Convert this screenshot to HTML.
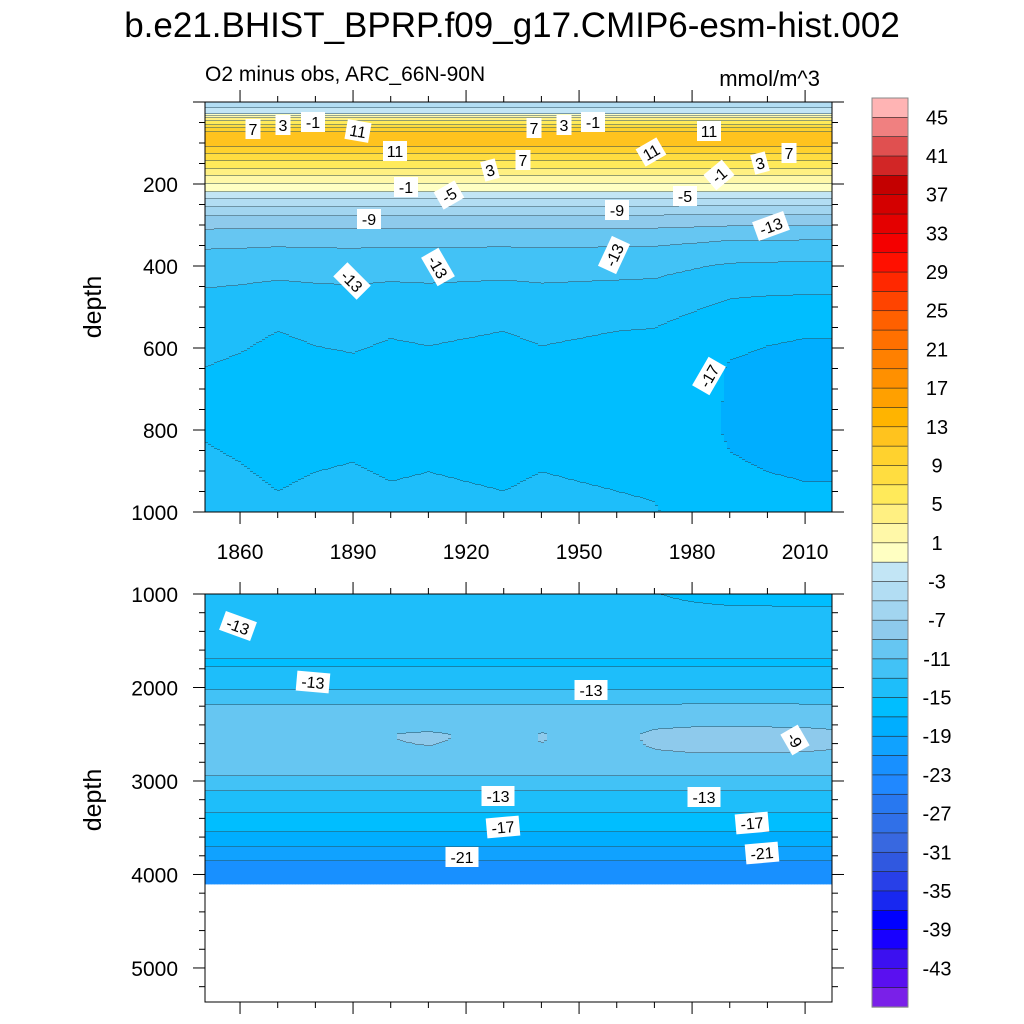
<!DOCTYPE html>
<html><head><meta charset="utf-8">
<style>
html,body{margin:0;padding:0;background:#fff;}
svg{display:block;font-family:"Liberation Sans",sans-serif;}
</style></head>
<body>
<svg id="chart" width="1024" height="1024" viewBox="0 0 1024 1024">
<text x="512" y="37" text-anchor="middle" font-size="35">b.e21.BHIST_BPRP.f09_g17.CMIP6-esm-hist.002</text>
<text x="205" y="81" font-size="21">O2 minus obs, ARC_66N-90N</text>
<text x="820" y="86" text-anchor="end" font-size="22">mmol/m^3</text>
<text transform="translate(101,307) rotate(-90)" text-anchor="middle" font-size="25">depth</text>
<text transform="translate(101,800) rotate(-90)" text-anchor="middle" font-size="25">depth</text>
<g id="topPanel"></g>
<g id="botPanel"></g>
<g id="labels"></g>
<g id="cbar"></g>
</svg>
<script>
// ---- data ----
const profileDepths = [0,15,30,40,55,75,95,115,135,155,175,195,215,240,270,300,340,400,480,560,650,800,880,950,1000,1200,1350,1500,1750,1900,2050,2200,2500,2800,2950,3100,3250,3450,3650,3750,3900,4100];
const profileValues = [-4,-3,-1,3,7,11.5,12.5,10.5,8,6,3.5,1.5,-0.5,-3.5,-6.5,-8.5,-10.5,-12.3,-13.6,-14.8,-15.3,-15.4,-15.1,-14.8,-14.6,-14.2,-13.2,-14.3,-15.2,-14.2,-12.8,-10.8,-9.6,-9.8,-11,-12.9,-14.2,-16,-18,-19.8,-21.5,-22.5];
const anomYears = [1850,1860,1870,1880,1890,1900,1910,1920,1930,1940,1950,1960,1970,1980,1990,2000,2010,2017];
const deepAnom = [0.3,0.1,-0.2,0,0.1,-0.1,0,-0.1,-0.2,0,-0.1,-0.2,-0.3,-1.0,-1.8,-2.0,-2.1,-2.1];
const midAnom = [0,0,0,0,0,0.6,0.8,0.5,0,0.7,0.3,0,1.0,1.3,1.3,1.3,1.2,1.0];
const xTickYears = [1860,1890,1920,1950,1980,2010];
const topDepthTicks = [200,400,600,800,1000];
const botDepthTicks = [1000,2000,3000,4000,5000];
const dataMaxDepth = 4100;
const cbarLabels = [45,41,37,33,29,25,21,17,13,9,5,1,-3,-7,-11,-15,-19,-23,-27,-31,-35,-39,-43];
// colors from top (>45) to bottom (<-45)
const levelColors = ["#FFB4B4","#F08080","#E05050","#D22626","#C40000","#D40000","#E40000","#F40000","#FF1000","#FF2800","#FF4400","#FF6000","#FF7000","#FF8000","#FF9000","#FFA000","#FFB400","#FFC31E","#FFD22E","#FFDD40","#FFEA5A","#FFF082","#FFF8A8","#FFFFC2",
"#C2E5F5","#B2DDF3","#A2D5F0","#8ECAEC","#66C6F2","#42C2F6","#1EBEFA","#00BEFF","#00AEFF","#10A2FF","#1890FF","#2088FF","#2878F0","#3070E8","#3868E0","#3058E0","#2840E8","#1828F0","#0000FF","#1800FF","#3C10F0","#5A10F0","#7A20E8"];
// ---- helpers ----
const NS="http://www.w3.org/2000/svg";
function mk(tag,attrs,parent){const e=document.createElementNS(NS,tag);for(const k in attrs)e.setAttribute(k,attrs[k]);parent.appendChild(e);return e;}
function interp(xs,ys,x){if(x<=xs[0])return ys[0];for(let i=1;i<xs.length;i++){if(x<=xs[i]){const t=(x-xs[i-1])/(xs[i]-xs[i-1]);return ys[i-1]+t*(ys[i]-ys[i-1]);}}return ys[ys.length-1];}
function value(year,d){
  let v=interp(profileDepths,profileValues,d);
  let wd=0; if(d>250){wd=Math.min(1,(d-250)/300);} if(d>1000){wd=Math.max(0,1-(d-1000)/200);}
  v+=wd*interp(anomYears,deepAnom,year);
  const wm=Math.exp(-Math.pow((d-2550)/200,2));
  v+=wm*interp(anomYears,midAnom,year);
  return v;
}
function levelIndex(v){
  if(v>45)return 0; if(v<-45)return 46;
  return Math.min(46,Math.max(0,Math.floor((45-v)/2)+1));
}
const X0=205,X1=832,Y0=1850.7,PXY=3.767;
const xScale=y=>X0+(y-Y0)*PXY;
const yearAt=x=>Y0+(x-X0)/PXY;
function drawPanel(g,top,bot,d0,d1,name){
  const ys=d=>top+(d-d0)*(bot-top)/(d1-d0);
  const ds=y=>d0+(y-top)*(d1-d0)/(bot-top);
  const step=3;
  for(let x=X0;x<X1;x+=step){
    const w=Math.min(step,X1-x);
    const yr=yearAt(x+w/2);
    let runStart=top,runLev=null;
    for(let y=top;y<=bot;y++){
      const d=ds(y+0.5);
      const lev=(d>dataMaxDepth||y===bot)?-1:levelIndex(value(yr,d));
      if(runLev===null){runLev=lev;runStart=y;continue;}
      if(lev!==runLev||y===bot){
        if(runLev>=0){
          const r=mk('rect',{x:x,y:runStart,width:w+0.4,height:y-runStart+0.4,fill:levelColors[runLev]},g);
          
          
          if(lev>=0&&y<bot){
            const l=mk('rect',{x:x,y:y-0.5,width:w,height:0.9,fill:'#2a4a5a'},g);
            
            
          }
        }
        runStart=y;runLev=lev;
      }
    }
  }
  const f=mk('rect',{x:X0,y:top,width:X1-X0,height:bot-top,fill:'none',stroke:'#000','stroke-width':1},g);
  
  
  return {ys};
}
const tg=document.getElementById('topPanel');
const TP=drawPanel(tg,102,512,0,1000,'top-panel');
const bg=document.getElementById('botPanel');
const BP=drawPanel(bg,594,1002,1000,5364,'bottom-panel');
// ticks
const axG=mk('g',{stroke:'#000','stroke-width':1},document.getElementById('chart'));


const txG=mk('g',{'font-size':21},document.getElementById('chart'));


for(let yr=1860;yr<=2017;yr+=10){
  const x=xScale(yr),L=(xTickYears.includes(yr))?12:6;
  [[102,-1],[512,1],[594,-1],[1002,1]].forEach(([y,s])=>mk('line',{x1:x,y1:y,x2:x,y2:y+s*L},axG));
}
xTickYears.forEach(yr=>{const t=mk('text',{x:xScale(yr),y:559,'text-anchor':'middle'},txG);t.textContent=yr;
 });
for(let d=0;d<=1000;d+=50){const y=TP.ys(d),L=(d%200===0)?12:6;mk('line',{x1:X0,y1:y,x2:X0-L,y2:y},axG);mk('line',{x1:X1,y1:y,x2:X1+L,y2:y},axG);}
topDepthTicks.forEach(d=>{const t=mk('text',{x:178,y:TP.ys(d)+8,'text-anchor':'end'},txG);t.textContent=d;
 });
for(let d=1000;d<=5364;d+=200){const y=BP.ys(d),L=(d%1000===0)?12:6;mk('line',{x1:X0,y1:y,x2:X0-L,y2:y},axG);mk('line',{x1:X1,y1:y,x2:X1+L,y2:y},axG);}
botDepthTicks.forEach(d=>{const t=mk('text',{x:178,y:BP.ys(d)+8,'text-anchor':'end'},txG);t.textContent=d;
 });
// contour labels
const cl=[[253,129,"7",0],[283,125,"3",0],[313,122,"-1",0],[358,131,"11",10],[395,151,"11",0],[406,187,"-1",0],[449,195,"-5",-30],[490,170,"3",-15],[523,160,"7",0],[534,128,"7",0],[564,125,"3",0],[593,122,"-1",0],[651,152,"11",-30],[709,131,"11",0],[719,175,"-1",-40],[760,163,"3",-15],[789,153,"7",0],[369,219,"-9",0],[617,210,"-9",0],[685,196,"-5",0],[771,226,"-13",-20],[352,281,"-13",45],[438,267,"-13",60],[614,255,"-13",-65],[709,376,"-17",-60],
[238,626,"-13",20],[313,682,"-13",5],[591,690,"-13",0],[795,740,"-9",60],[498,796,"-13",0],[704,797,"-13",0],[503,827,"-17",-5],[752,823,"-17",-5],[462,857,"-21",0],[762,853,"-21",-5]];
const lg=document.getElementById('labels');
cl.forEach(([x,y,s,r])=>{
  const g=mk('g',{transform:`translate(${x},${y}) rotate(${r})`},lg);
  
  
  const w=s.length*9+6;
  mk('rect',{x:-w/2,y:-10,width:w,height:20,fill:'#fff'},g);
  const t=mk('text',{x:0,y:6,'text-anchor':'middle','font-size':16},g);t.textContent=s;
});
// colorbar
const cb=document.getElementById('cbar');
const CB0=98,CB1=1007,CBX=872,CBW=36,bh=(CB1-CB0)/levelColors.length;
levelColors.forEach((c,i)=>{const r=mk('rect',{x:CBX,y:CB0+i*bh,width:CBW,height:bh+0.3,fill:c,stroke:'#222','stroke-width':0.6},cb);
 });
mk('rect',{x:CBX,y:CB0,width:CBW,height:CB1-CB0,fill:'none',stroke:'#888','stroke-width':1},cb);
cbarLabels.forEach(v=>{const i=(47-v)/2;const t=mk('text',{x:937,y:CB0+i*bh+7,'text-anchor':'middle','font-size':20},cb);t.textContent=v;
 });
</script>
</body></html>
